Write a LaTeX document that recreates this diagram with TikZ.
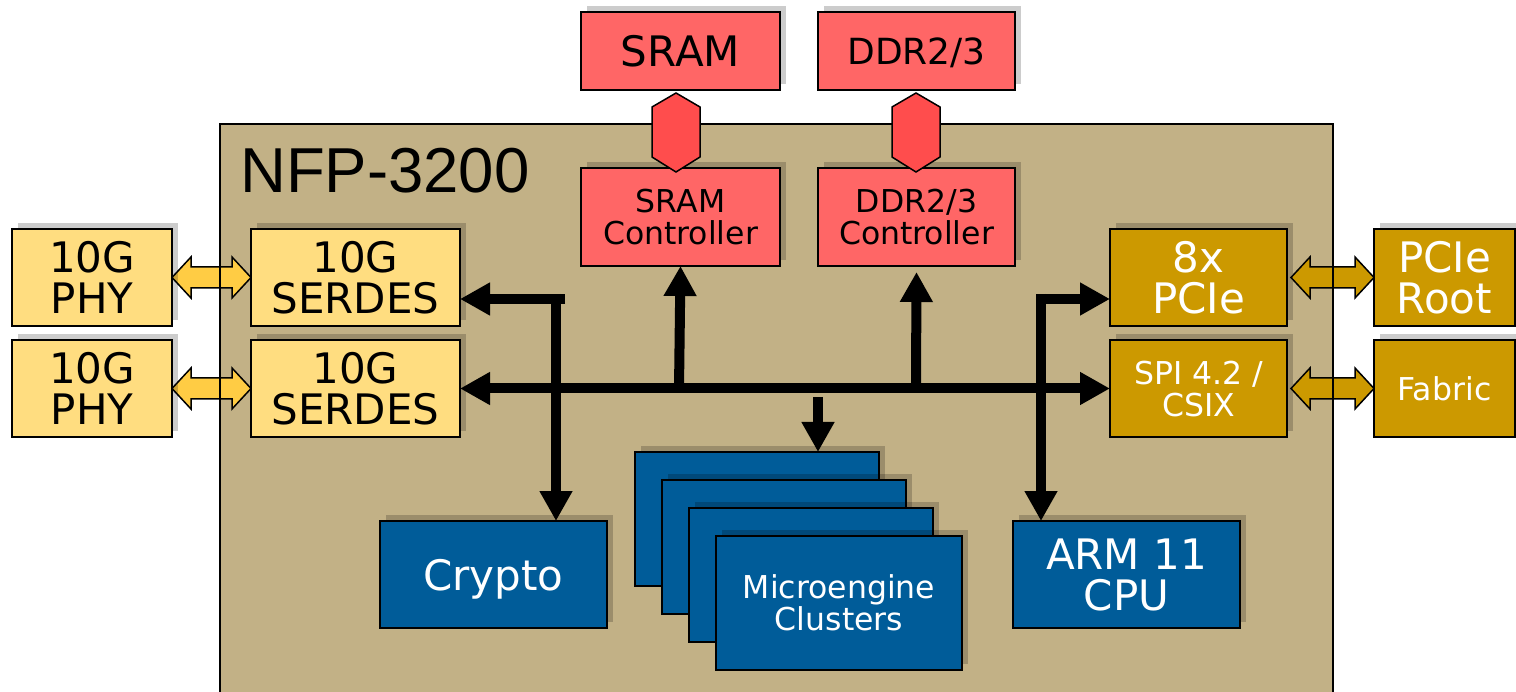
\documentclass[tikz,border=0pt]{standalone}
\usepackage{fontspec}
\setmainfont{DejaVu Sans}
\newfontfamily\nfpfont{Liberation Sans}
\usetikzlibrary{arrows.meta,shadows,calc}
\definecolor{chipbg}{HTML}{C2B186}
\definecolor{phyyel}{HTML}{FFDD80}
\definecolor{arryel}{HTML}{FFCC44}
\definecolor{goldc}{HTML}{CC9900}
\definecolor{memred}{HTML}{FF6666}
\definecolor{hexred}{HTML}{FF4D4D}
\definecolor{bluc}{HTML}{005C99}
\pgfdeclarelayer{back}
\pgfdeclarelayer{mid}
\pgfsetlayers{back,mid,main}
\tikzset{
  box/.style={draw=black, line width=1.8pt, inner sep=0pt, outer sep=0pt, align=center, text depth=0pt,
    drop shadow={shadow xshift=6pt, shadow yshift=6pt, opacity=0.2, fill=black}},
  bigtxt/.style={font=\fontsize{42}{41}\selectfont},
  smalltxt/.style={font=\fontsize{31.5}{32}\selectfont},
  bus/.style={line width=10pt, -{Triangle[length=30pt,width=31pt]}},
  busdbl/.style={line width=10pt, {Triangle[length=30pt,width=31pt]}-{Triangle[length=30pt,width=31pt]}},
  dblarr/.style={draw=black, line width=1.5pt},
  hexa/.style={draw=black, line width=1.5pt, fill=hexred},
}
\newcommand\fatarrow[3]{%
  \draw[dblarr, fill=#3] (#1) -- ++(19,-20.5) -- ++(0,10) -- ($(#2)+(-19,-10.5)$) -- ++(0,-10) -- (#2)
    -- ++(-19,20.5) -- ++(0,-10) -- ($(#1)+(19,10.5)$) -- ++(0,10) -- cycle;}
\begin{document}
\begin{tikzpicture}[x=1pt,y=-1pt]
\useasboundingbox (0,0) rectangle (1516,692);
% chip background
\begin{pgfonlayer}{back}
  \fill[chipbg] (220,124) rectangle (1333,700);
\end{pgfonlayer}
\node[font=\nfpfont\fontsize{63.5}{64}\selectfont, anchor=base west, inner sep=0pt] (title) at (240,193) {NFP-3200};

% memory
\node[box, fill=memred, minimum width=199pt, minimum height=78pt, font=\fontsize{42}{41}\selectfont] (sram) at (680.5,51) {SRAM};
\node[box, fill=memred, minimum width=197pt, minimum height=78pt, font=\fontsize{36}{36}\selectfont] (ddr) at (916.5,51) {DDR2/3};
\node[box, fill=memred, minimum width=199pt, minimum height=98pt, smalltxt] (sramc) at (680.5,217) {SRAM\\Controller};
\node[box, fill=memred, minimum width=197pt, minimum height=98pt, smalltxt] (ddrc) at (916.5,217) {DDR2/3\\Controller};

% PHY / SERDES
\node[box, fill=phyyel, minimum width=160pt, minimum height=97pt, bigtxt] (phy1) at (92,277.5) {10G\\PHY};
\node[box, fill=phyyel, minimum width=160pt, minimum height=97pt, bigtxt] (phy2) at (92,388.5) {10G\\PHY};
\node[box, fill=phyyel, minimum width=209pt, minimum height=97pt, bigtxt] (serdes1) at (355.5,277.5) {10G\\SERDES};
\node[box, fill=phyyel, minimum width=209pt, minimum height=97pt, bigtxt] (serdes2) at (355.5,388.5) {10G\\SERDES};

% PCIe / SPI
\node[box, fill=goldc, text=white, minimum width=177pt, minimum height=97pt, bigtxt] (pcie) at (1198.5,277.5) {8x\\PCIe};
\node[box, fill=goldc, text=white, minimum width=177pt, minimum height=97pt, smalltxt] (spi) at (1198.5,388.5) {SPI 4.2 /\\CSIX};
\node[box, fill=goldc, text=white, minimum width=141pt, minimum height=97pt, bigtxt] (root) at (1444.5,277.5) {PCIe\\Root};
\node[box, fill=goldc, text=white, minimum width=141pt, minimum height=97pt, smalltxt] (fabric) at (1444.5,388.5) {Fabric};

% processing
\node[box, fill=bluc, text=white, minimum width=227pt, minimum height=107pt, bigtxt] (crypto) at (493.5,574.5) {Crypto};
\node[box, fill=bluc, text=white, minimum width=227pt, minimum height=107pt, bigtxt] (arm) at (1126.5,574.5) {ARM 11\\CPU};
\node[box, fill=bluc, minimum width=244pt, minimum height=134pt] (me1) at (757,519) {};
\node[box, fill=bluc, minimum width=244pt, minimum height=134pt] (me2) at (784,547) {};
\node[box, fill=bluc, minimum width=244pt, minimum height=134pt] (me3) at (811,575) {};
\node[box, fill=bluc, text=white, minimum width=246pt, minimum height=134pt, smalltxt] (me4) at (839,603) {Microengine\\Clusters};

% hexagon links
\draw[hexa] (676,93) -- (700,107) -- (700,157) -- (676,172) -- (652,157) -- (652,107) -- cycle;
\draw[hexa] (916,93) -- (940,107) -- (940,157) -- (916,172) -- (892,157) -- (892,107) -- cycle;

% bus
\coordinate (jl) at (556,299);
\coordinate (jr) at (1041,299);
\coordinate (jm) at (818,397);
\begin{pgfonlayer}{mid}
  \draw[busdbl] (serdes2.east) -- (spi.west);
  \draw[bus] ($(jl)+(9,0)$) -- (jl -| serdes1.east);
  \draw[bus] ($(jl)+(0,-5)$) -- (jl |- crypto.north);
  \draw[bus] (679,389) -- (sramc.south);
  \draw[bus] (916,389) -- ($(ddrc.south)+(0,6)$);
  \draw[bus] (jm) -- (jm |- me1.north);
  \draw[bus] ($(jr)+(-5,0)$) -- (jr -| pcie.west);
  \draw[bus] ($(jr)+(0,-5)$) -- (jr |- arm.north);
  \fatarrow{phy1.east}{serdes1.west}{arryel}
  \fatarrow{phy2.east}{serdes2.west}{arryel}
  \fatarrow{$(pcie.east)+(4,0)$}{root.west}{goldc}
  \fatarrow{$(spi.east)+(4,0)$}{fabric.west}{goldc}
  % chip border, above the link arrows but under the hexagons
  \draw[line width=1.8pt] (220,700) -- (220,124) -- (1333,124) -- (1333,700);
\end{pgfonlayer}
\end{tikzpicture}
\end{document}
